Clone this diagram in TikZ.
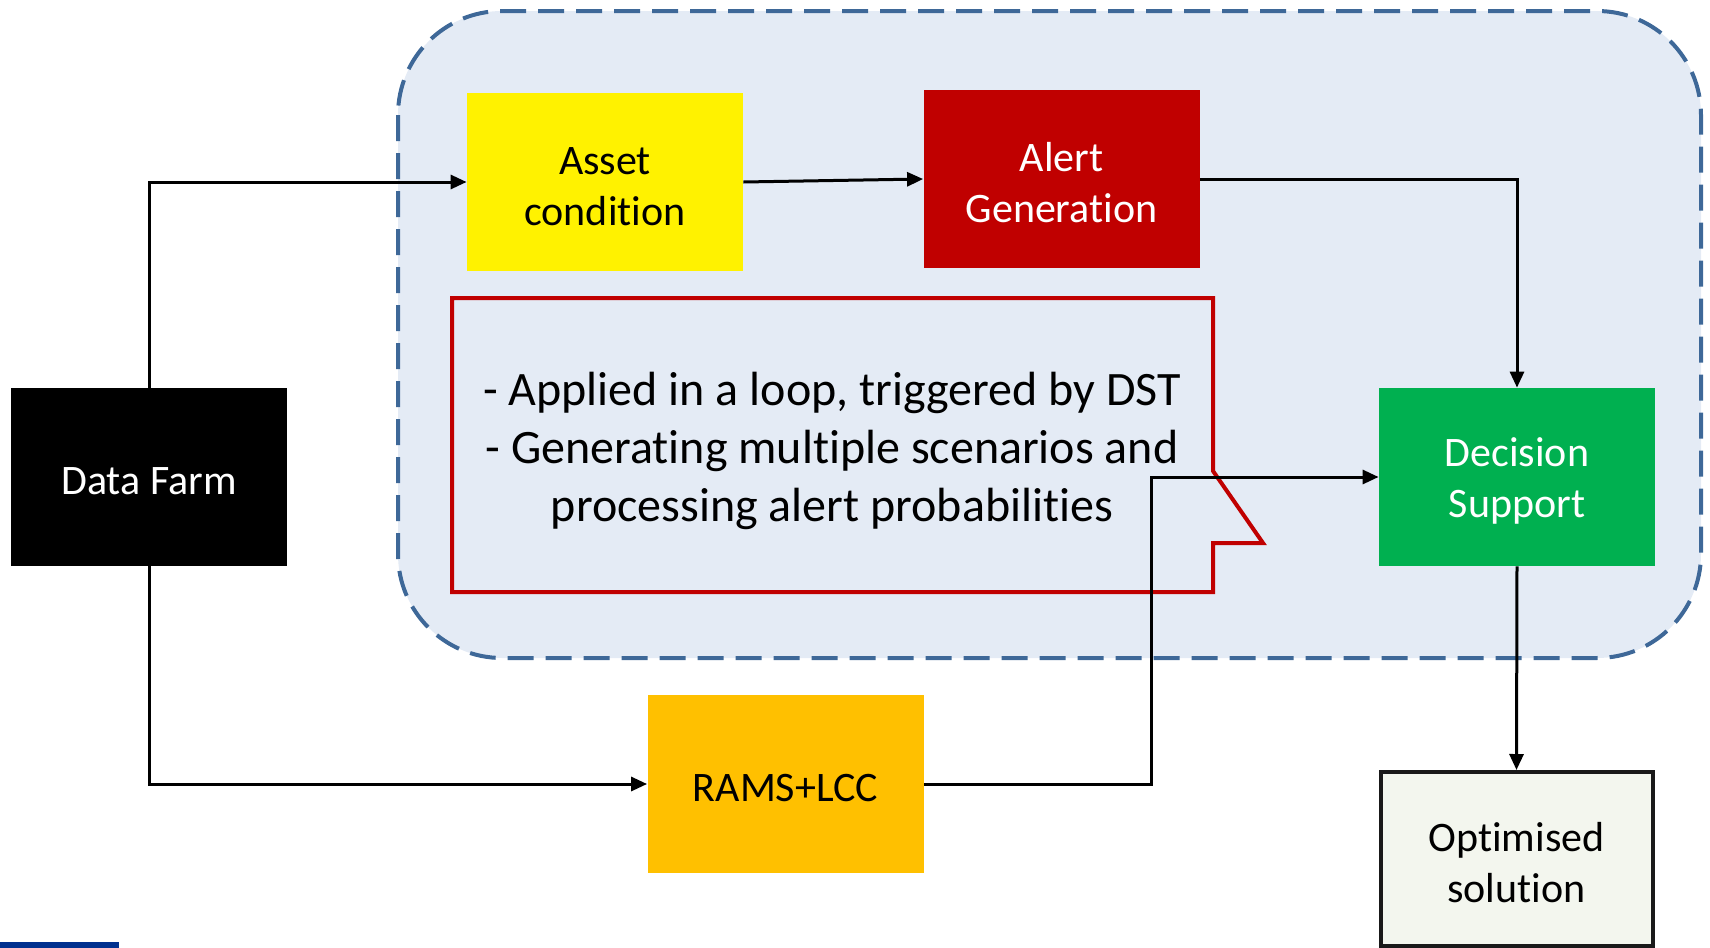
\documentclass[tikz,border=0pt]{standalone}
\usepackage{fontspec}
\setmainfont{Carlito}[Ligatures=NoCommon,RawFeature={-liga;-clig}]
\usetikzlibrary{arrows.meta}

\definecolor{regionfill}{RGB}{228,235,245}
\definecolor{regionline}{RGB}{62,104,152}
\definecolor{alertred}{RGB}{192,0,0}
\definecolor{supportgreen}{RGB}{0,176,80}
\definecolor{ramsorange}{RGB}{255,192,0}
\definecolor{solutionfill}{RGB}{243,246,238}
\definecolor{barblue}{RGB}{0,48,143}

\newcommand\boxw{138pt}
\newcommand\boxh{89pt}
\newcommand\topline{\rule{0pt}{18pt}}

\tikzset{
  block/.style={minimum width=\boxw,minimum height=\boxh,inner sep=0pt,
    align=center,font=\fontsize{21}{25.5}\selectfont},
  flow/.style={line width=1.5pt,-{Triangle[length=8pt,width=7pt]}},
}

\begin{document}
\begin{tikzpicture}[x=0.5pt,y=-0.5pt]
    \useasboundingbox (0,0) rectangle (1710,948);

    % dashed area
    \draw[fill=regionfill,draw=regionline,line width=2pt,dash pattern=on 13pt off 6pt,
      rounded corners=52pt] (398,11) rectangle (1701,658);

    % callout
    \draw[alertred,line width=2pt] (452,298) -- (1213,298) -- (1213,471) -- (1263,543)
      -- (1213,543) -- (1213,592) -- (452,592) -- cycle;
    \node[align=center,font=\fontsize{24}{29}\selectfont] (note) at (832,451)
      {- Applied in a loop, triggered by DST\\- Generating multiple scenarios and\\processing alert probabilities};

    \node[block,fill=black,text=white] (farm) at (149,477) {\topline Data Farm};
    \node[block,fill=yellow] (asset) at (605,182) {\topline Asset\\condition};
    \node[block,fill=alertred,text=white] (alert) at (1061.5,179) {\topline Alert\\Generation};
    \node[block,fill=supportgreen,text=white] (decision) at (1517,477) {\topline Decision\\Support};
    \node[block,fill=ramsorange] (rams) at (785.5,784) {\topline RAMS+LCC};
    \node[block,fill=solutionfill,draw=black!90,line width=2pt,minimum width=136pt,
      minimum height=87pt] (solution) at (1516.5,859) {\topline Optimised\\solution};

    \coordinate (bend) at (1151,784);

    \draw[flow] (farm.north) |- (asset.west);
    \draw[flow] (asset.east) -- (alert.west);
    \draw[flow] (alert.east) -| (decision.north);
    \draw[flow] (farm.south) |- (rams.west);
    \draw[flow] (rams.east) -- (bend) |- (decision.west);
    \draw[flow] (decision.south) -- (solution.north);

    \fill[barblue] (0,942) rectangle (119,948);
  \end{tikzpicture}
\end{document}
